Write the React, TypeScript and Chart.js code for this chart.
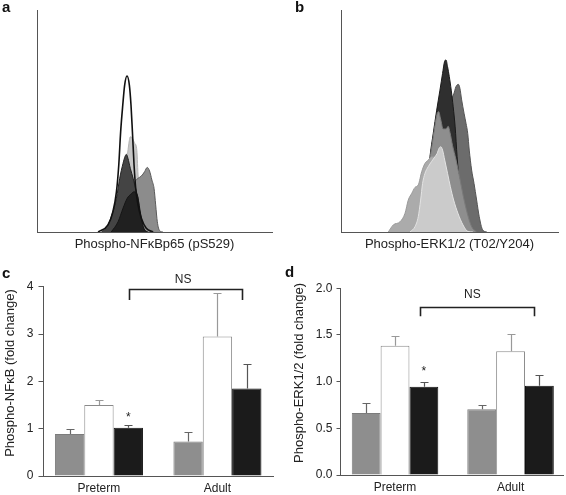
import React, { useEffect, useRef } from "react";
import { Chart, registerables } from "chart.js";

Chart.register(...registerables);

const FONT = "'Liberation Sans', Arial, Helvetica, sans-serif";
Chart.defaults.font.family = FONT;
Chart.defaults.color = "#222";

// ---- Panel a: Phospho-NFkBp65 histograms [channel, relative count]
const nfkbOutline = [[26, 0], [30.2, 3.2], [32.3, 9.1], [33.8, 18.1], [34.8, 30.2], [35.6, 45.2], [36.5, 57.2], [37.3, 66.2], [38.3, 70.3], [39.3, 66.2], [40, 57.2], [40.6, 45.2], [41.3, 30.2], [42, 19.7], [43, 12.2], [44.4, 6.2], [46.5, 1.7], [49.4, 0]];
const nfkbBlack = [[31.6, 0], [34.5, 4.6], [36.6, 10.7], [38.4, 15.2], [39.9, 17], [41.3, 18.1], [42.3, 17.4], [43, 15.2], [43.7, 10.7], [44.7, 4.6], [45.8, 0.9], [46.9, 0]];
const nfkbDark = [[27.4, 0], [30.2, 3.2], [32.3, 9.1], [33.8, 15.2], [35.2, 24.2], [36.6, 30.9], [37.6, 34.4], [38, 35], [38.7, 33.2], [39.7, 28.7], [40.9, 24.2], [42.3, 18.1], [43, 15.2], [43.7, 9.1], [44.4, 4.6], [45.8, 0.8], [47.2, 0]];
const nfkbMid = [[29.5, 0], [33.1, 3], [35.9, 9], [38, 14.9], [39.4, 18.1], [41.6, 22.7], [43, 24.2], [44.4, 25.2], [45.8, 27.2], [46.9, 29.1], [47.9, 27.5], [48.9, 23.4], [49.8, 19.7], [50.5, 12.2], [51.2, 4.6], [52.2, 0.6], [53.6, 0]];
const nfkbLight = [[30.2, 0], [34.5, 7.5], [36.6, 18.1], [38, 30.2], [39, 39.2], [39.7, 42.9], [40.6, 42.2], [41.6, 39.9], [42.4, 37.7], [43, 25.7], [43.7, 12.2], [44.7, 3.2], [46.5, 0]];

// ---- Panel b: Phospho-ERK1/2 histograms
const erkLightest = [[31.8, 0], [34.1, 2.4], [35.6, 6.9], [36.7, 14.4], [37.6, 21.9], [38.7, 26.4], [40.2, 29.4], [41.7, 31.7], [43.3, 33.9], [44.3, 35.4], [45.2, 37.7], [46, 38.4], [46.8, 36.9], [47.8, 32.4], [49.1, 26.4], [50.4, 20.4], [51.9, 14.4], [53.9, 8.4], [56.2, 3.2], [58.5, 0.2], [60.8, 0]];
const erkLight = [[21.8, 0], [24.1, 3.2], [27.2, 4.6], [29.5, 8.4], [31, 14.4], [32.6, 17.4], [34.1, 20.1], [35.6, 21.2], [37.2, 27.2], [38.7, 30.9], [40.2, 32.4], [41.7, 33.9], [42.5, 33.9], [44.8, 32.4], [47.1, 27.9], [50.2, 18.9], [53.2, 9.9], [56.3, 2.4], [59.4, 0]];
const erkMid = [[27.2, 0], [33.3, 7], [37.9, 19.1], [40.2, 29.7], [41.7, 37.4], [43.3, 47.9], [44.3, 53.2], [45, 54.2], [45.9, 50.9], [47.1, 46.4], [48.4, 46.4], [49.4, 47.6], [50.2, 44.9], [51.4, 38.9], [52.9, 32.9], [54.8, 23.9], [56.3, 16.4], [58.2, 8.4], [60.2, 2.4], [62.5, 0]];
const erkBlack = [[36.4, 0], [39.5, 19.1], [41, 34], [42.5, 44.4], [44.1, 54.9], [45.6, 63.9], [46.8, 71.4], [47.7, 76.7], [48.4, 77.5], [49.1, 74.5], [49.9, 70], [50.8, 63.9], [51.7, 56.4], [52.6, 47.4], [53.5, 34], [54.8, 19.1], [56.3, 7.1], [57.9, 0]];
const erkDark = [[37.9, 0], [41, 14.4], [43.3, 29.4], [45.6, 44.4], [47.9, 54.9], [50.2, 59.5], [51.8, 61.7], [53, 65.5], [54.1, 66.5], [54.8, 64.7], [55.6, 59.5], [56.7, 53.5], [57.6, 49], [58.4, 44.4], [59.1, 36.9], [60.2, 27.9], [61.3, 21.9], [62.5, 14.4], [63.7, 6.9], [65.3, 0.9], [67.2, 0]];

// ---- Bar panels
const groups = ["Preterm", "Adult"];

const nfkbGray = [0.89, 0.73];
const nfkbGraySem = [0.10, 0.19];
const nfkbWhite = [1.5, 2.95];
const nfkbWhiteSem = [0.10, 0.92];
const nfkbBlk = [1.02, 1.85];
const nfkbBlkSem = [0.05, 0.52];
const nfkbTicks = [0, 1, 2, 3, 4];

const erkGray = [0.665, 0.705];
const erkGraySem = [0.11, 0.05];
const erkWhite = [1.385, 1.325];
const erkWhiteSem = [0.10, 0.19];
const erkBlk = [0.945, 0.955];
const erkBlkSem = [0.05, 0.115];
const erkTicks = [0, 0.5, 1, 1.5, 2];

function letterDraw(ctx: CanvasRenderingContext2D, letter: string, x: number, y: number) {
  ctx.save();
  ctx.fillStyle = "#111";
  ctx.font = `bold 15px ${FONT}`;
  ctx.textAlign = "left";
  ctx.textBaseline = "alphabetic";
  ctx.fillText(letter, x, y);
  ctx.restore();
}

function histConfig(curves: any[], title: string, letter: string, letterX: number, pad: any): any {
  return {
    type: "line",
    data: {
      datasets: curves.map((c) => ({
        data: c.pts.map(([x, y]: number[]) => ({ x, y })),
        fill: c.fill ? "origin" : false,
        backgroundColor: c.fill || "transparent",
        borderColor: c.line,
        borderWidth: c.w,
        pointRadius: 0,
        cubicInterpolationMode: "monotone",
      })),
    },
    options: {
      responsive: false,
      animation: false,
      events: [],
      layout: { padding: pad },
      plugins: { legend: { display: false }, tooltip: { enabled: false } },
      scales: {
        x: {
          type: "linear",
          min: 0,
          max: 100,
          ticks: { display: false },
          grid: { display: false, drawTicks: false },
          border: { display: true, color: "#555", width: 1 },
          title: {
            display: true,
            text: title,
            color: "#222",
            font: { family: FONT, size: 13, lineHeight: 1.2 },
            padding: { top: 0, bottom: 2.7 },
          },
          afterFit: (s: any) => {
            s.height = 23;
          },
        },
        y: {
          type: "linear",
          min: 0,
          max: 100,
          ticks: { display: false },
          grid: { display: false, drawTicks: false },
          border: { display: true, color: "#555", width: 1 },
          afterFit: (s: any) => {
            s.width = 0;
          },
        },
      },
    },
    plugins: [
      {
        id: "letter",
        afterDraw(chart: any) {
          letterDraw(chart.ctx, letter, letterX, 12);
        },
      },
    ],
  };
}

const errorBarPlugin = {
  id: "errbars",
  afterDatasetsDraw(chart: any) {
    const { ctx } = chart;
    const ys = chart.scales.y;
    chart.data.datasets.forEach((ds: any, di: number) => {
      const meta = chart.getDatasetMeta(di);
      meta.data.forEach((bar: any, i: number) => {
        const v = ds.data[i].y;
        const top = Math.round(ys.getPixelForValue(v + ds.sem[i])) + 0.5;
        const x = Math.round(bar.x) + 0.5;
        ctx.save();
        ctx.strokeStyle = ds.errColor;
        ctx.lineWidth = 1.2;
        ctx.beginPath();
        ctx.moveTo(x, bar.y);
        ctx.lineTo(x, top);
        ctx.moveTo(x - 4, top);
        ctx.lineTo(x + 4, top);
        ctx.stroke();
        ctx.restore();
      });
    });
  },
};

function barConfig(p: any): any {
  const font = { family: FONT, size: 12 };
  return {
    type: "bar",
    data: {
      datasets: [
        {
          data: groups.map((g, i) => ({ x: i + 1, y: p.gray[i] })),
          backgroundColor: "#8e8e8e",
          borderColor: "#7c7c7c",
          borderWidth: 1,
          sem: p.graySem,
          errColor: "#666",
        },
        {
          data: groups.map((g, i) => ({ x: i + 1, y: p.white[i] })),
          backgroundColor: "#ffffff",
          borderColor: "#8a8a8a",
          borderWidth: 1,
          sem: p.whiteSem,
          errColor: "#999",
        },
        {
          data: groups.map((g, i) => ({ x: i + 1, y: p.black[i] })),
          backgroundColor: "#1b1b1b",
          borderColor: "#111",
          borderWidth: 1,
          sem: p.blackSem,
          errColor: "#555",
        },
      ],
    },
    options: {
      responsive: false,
      animation: false,
      events: [],
      layout: { padding: { top: p.top, right: p.right, left: 0, bottom: 0 } },
      datasets: { bar: { categoryPercentage: p.catPct, barPercentage: 1 } },
      plugins: { legend: { display: false }, tooltip: { enabled: false } },
      scales: {
        x: {
          type: "linear",
          min: p.xMin,
          max: p.xMax,
          offset: false,
          grid: { display: false, drawTicks: false, offset: false },
          border: { display: true, color: "#555", width: 1 },
          ticks: {
            color: "#222",
            font,
            padding: 5,
            maxRotation: 0,
            autoSkip: false,
            callback: (v: number) => groups[Math.round(v) - 1] ?? "",
          },
          afterBuildTicks: (s: any) => {
            s.ticks = groups.map((_, i) => ({ value: i + 1 }));
          },
          afterFit: (s: any) => {
            s.height = p.xh;
          },
        },
        y: {
          type: "linear",
          min: 0,
          max: p.yMax,
          afterBuildTicks: (s: any) => {
            s.ticks = p.ticks.map((v: number) => ({ value: v }));
          },
          ticks: {
            color: "#222",
            font,
            padding: p.tickPad,
            callback: (v: number) => p.fmt(v),
          },
          grid: {
            display: true,
            drawOnChartArea: false,
            drawTicks: true,
            tickLength: p.tickLen,
            color: "#555",
          },
          border: { display: true, color: "#555", width: 1 },
          afterFit: (s: any) => {
            s.width = p.left;
          },
        },
      },
    },
    plugins: [
      errorBarPlugin,
      {
        id: "annot",
        afterDraw(chart: any) {
          const ctx = chart.ctx;
          const xs = chart.scales.x;
          const ys = chart.scales.y;
          letterDraw(ctx, p.letter, p.letterX, p.letterY);
          // y title
          ctx.save();
          ctx.fillStyle = "#222";
          ctx.font = `13px ${FONT}`;
          ctx.translate(p.yTitleX, p.yTitleY);
          ctx.rotate(-Math.PI / 2);
          ctx.textAlign = "center";
          ctx.textBaseline = "middle";
          ctx.fillText(p.yTitle, 0, 0);
          ctx.restore();
          // bracket
          const x1 = Math.round(xs.getPixelForValue(p.bracket[0])) + 0.5;
          const x2 = Math.round(xs.getPixelForValue(p.bracket[1])) + 0.5;
          const yt = Math.round(ys.getPixelForValue(p.bracketTop)) + 0.5;
          const yl = ys.getPixelForValue(p.bracketLeg);
          ctx.save();
          ctx.strokeStyle = "#222";
          ctx.lineWidth = 1.6;
          ctx.beginPath();
          ctx.moveTo(x1, yl);
          ctx.lineTo(x1, yt);
          ctx.lineTo(x2, yt);
          ctx.lineTo(x2, yl);
          ctx.stroke();
          ctx.fillStyle = "#222";
          ctx.font = `12px ${FONT}`;
          ctx.textAlign = "center";
          ctx.textBaseline = "middle";
          ctx.fillText("NS", xs.getPixelForValue(p.nsX), ys.getPixelForValue(p.nsY));
          // asterisk above preterm black bar
          const blackBar = chart.getDatasetMeta(2).data[0];
          ctx.font = `12px ${FONT}`;
          ctx.fillText("*", blackBar.x, ys.getPixelForValue(p.starY) + 3);
          ctx.restore();
        },
      },
    ],
  };
}

export default function App() {
  const refA = useRef<HTMLCanvasElement>(null);
  const refB = useRef<HTMLCanvasElement>(null);
  const refC = useRef<HTMLCanvasElement>(null);
  const refD = useRef<HTMLCanvasElement>(null);

  useEffect(() => {
    const charts: Chart[] = [];
    charts.push(
      new Chart(
        refA.current!,
        histConfig(
          [
            { pts: nfkbOutline, fill: null, line: "#111", w: 1.6 },
            { pts: nfkbBlack, fill: "#202020", line: "#151515", w: 1 },
            { pts: nfkbDark, fill: "#444444", line: "#222", w: 1 },
            { pts: nfkbMid, fill: "#8c8c8c", line: "#5a5a5a", w: 1 },
            { pts: nfkbLight, fill: "#c6c6c6", line: "#b4b4b4", w: 1 },
          ],
          "Phospho-NF\u03BABp65 (pS529)",
          "a",
          2,
          { left: 37, top: 10, right: 11, bottom: 0 }
        )
      )
    );
    charts.push(
      new Chart(
        refB.current!,
        histConfig(
          [
            { pts: erkLightest, fill: "#cbcbcb", line: "#e4e4e4", w: 1 },
            { pts: erkLight, fill: "#ababab", line: "#9a9a9a", w: 1 },
            { pts: erkMid, fill: "#8e8e8e", line: "#7a7a7a", w: 1 },
            { pts: erkBlack, fill: "#2f2f2f", line: "#1a1a1a", w: 1 },
            { pts: erkDark, fill: "#6c6c6c", line: "#555", w: 1 },
          ],
          "Phospho-ERK1/2 (T02/Y204)",
          "b",
          12,
          { left: 58, top: 10, right: 8, bottom: 0 }
        )
      )
    );
    charts.push(
      new Chart(
        refC.current!,
        barConfig({
          gray: nfkbGray,
          graySem: nfkbGraySem,
          white: nfkbWhite,
          whiteSem: nfkbWhiteSem,
          black: nfkbBlk,
          blackSem: nfkbBlkSem,
          ticks: nfkbTicks,
          fmt: (v: number) => String(v),
          yMax: 4,
          top: 31.7,
          right: 10,
          left: 43.5,
          xh: 19,
          xMin: 0.532,
          xMax: 2.469,
          catPct: 0.743,
          tickLen: 5,
          tickPad: 5,
          letter: "c",
          letterX: 2,
          letterY: 23,
          yTitle: "Phospho-NF\u03BAB (fold change)",
          yTitleX: 10,
          yTitleY: 118,
          bracket: [1.25, 2.21],
          bracketTop: 3.95,
          bracketLeg: 3.72,
          nsX: 1.71,
          nsY: 4.15,
          starY: 1.29,
        })
      )
    );
    charts.push(
      new Chart(
        refD.current!,
        barConfig({
          gray: erkGray,
          graySem: erkGraySem,
          white: erkWhite,
          whiteSem: erkWhiteSem,
          black: erkBlk,
          blackSem: erkBlkSem,
          ticks: erkTicks,
          fmt: (v: number) => v.toFixed(1),
          yMax: 2,
          top: 33.3,
          right: 3,
          left: 57.5,
          xh: 20,
          xMin: 0.528,
          xMax: 2.454,
          catPct: 0.749,
          tickLen: 4,
          tickPad: 4,
          letter: "d",
          letterX: 2,
          letterY: 22,
          yTitle: "Phospho-ERK1/2 (fold change)",
          yTitleX: 16,
          yTitleY: 118,
          bracket: [1.216, 2.203],
          bracketTop: 1.8,
          bracketLeg: 1.7,
          nsX: 1.67,
          nsY: 1.93,
          starY: 1.14,
        })
      )
    );
    return () => charts.forEach((c) => c.destroy());
  }, []);

  const abs = (left: number, top: number): React.CSSProperties => ({ position: "absolute", left, top });

  return (
    <div style={{ position: "absolute", left: 0, top: 0, width: 566, height: 495, background: "#fff", overflow: "hidden" }}>
      <canvas ref={refA} width={283} height={255} style={abs(0, 0)} />
      <canvas ref={refB} width={283} height={255} style={abs(283, 0)} />
      <canvas ref={refC} width={283} height={240} style={abs(0, 255)} />
      <canvas ref={refD} width={283} height={240} style={abs(283, 255)} />
    </div>
  );
}
